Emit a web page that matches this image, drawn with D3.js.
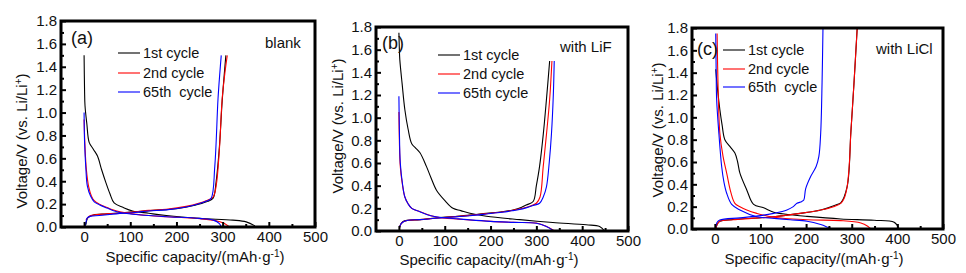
<!DOCTYPE html>
<html>
<head>
<meta charset="utf-8">
<script src="https://cdn.jsdelivr.net/npm/d3@7"></script>
<style>
  body { margin: 0; background: #fff; }
  svg text { font-family: "Liberation Sans", Arial, sans-serif; font-size: 14px; fill: #111; }
  .tick text { font-size: 15px; }
</style>
</head>
<body>
<svg id="chart" width="966" height="273"></svg>
<script>
// tick values
const xTicks = [0, 100, 200, 300, 400, 500];
const yTicks = [0, 0.2, 0.4, 0.6, 0.8, 1.0, 1.2, 1.4, 1.6, 1.8];
const seriesColors = ["#000000", "#ff0000", "#0000ff"];

// panel (a) blank : [capacity, voltage]
const a1Dis = [[0,1.5],[1,1.2],[2,1.06],[6,0.9],[11,0.74],[20,0.68],[29,0.62],[38,0.5],[47,0.39],[56,0.29],[65,0.21],[85,0.17],[105,0.14],[140,0.12],[178,0.10],[250,0.075],[322,0.06],[351,0.045],[370,0.01]];
const a1Chg = [[4,0.02],[8,0.08],[20,0.105],[50,0.115],[100,0.13],[150,0.145],[200,0.16],[240,0.19],[265,0.22],[279,0.25],[286,0.4],[293,0.7],[299,1.1],[307,1.5]];
const a2Dis = [[0,0.94],[2,0.7],[5,0.5],[10,0.35],[16,0.27],[22,0.23],[33,0.2],[50,0.17],[62,0.15],[80,0.13],[105,0.115],[140,0.1],[178,0.09],[250,0.073],[286,0.055],[304,0.03],[315,0.0]];
const a2Chg = [[4,0.06],[10,0.09],[14,0.1],[33,0.11],[70,0.12],[105,0.13],[140,0.145],[178,0.155],[221,0.18],[250,0.21],[264,0.23],[279,0.26],[286,0.36],[293,0.68],[299,1.12],[305,1.35],[310,1.5]];
const a3Dis = [[0,1.0],[1,0.75],[4,0.5],[7,0.36],[14,0.27],[22,0.22],[33,0.195],[50,0.165],[62,0.145],[80,0.125],[105,0.112],[140,0.1],[178,0.09],[250,0.075],[280,0.06],[293,0.03],[297,0.0]];
const a3Chg = [[2,0.0],[4,0.04],[7,0.08],[15,0.095],[33,0.10],[70,0.115],[105,0.125],[140,0.14],[178,0.15],[221,0.175],[250,0.205],[264,0.225],[275,0.25],[283,0.53],[290,1.12],[294,1.35],[297,1.5]];

// panel (b) with LiF
const b1Dis = [[0,1.75],[1,1.6],[2,1.51],[7,1.3],[13,1.07],[20,0.9],[28,0.77],[37,0.73],[46,0.69],[60,0.57],[70,0.47],[82,0.36],[100,0.27],[118,0.2],[135,0.18],[155,0.156],[191,0.13],[264,0.1],[336,0.075],[409,0.055],[438,0.04],[449,0.0]];
const b1Chg = [[1,0.02],[4,0.06],[9,0.085],[20,0.095],[46,0.1],[80,0.115],[118,0.127],[155,0.14],[191,0.156],[225,0.17],[249,0.186],[268,0.21],[278,0.23],[293,0.26],[300,0.4],[307,0.57],[315,0.85],[322,1.16],[329,1.5]];
const b2Dis = [[0,1.05],[1,0.8],[3,0.57],[8,0.4],[13,0.3],[20,0.24],[28,0.2],[46,0.17],[70,0.135],[97,0.115],[130,0.105],[155,0.097],[200,0.085],[250,0.076],[300,0.07],[322,0.04],[340,0.0]];
const b2Chg = [[1,0.03],[4,0.06],[9,0.08],[20,0.095],[46,0.1],[80,0.113],[118,0.125],[155,0.138],[191,0.153],[225,0.168],[249,0.183],[270,0.2],[290,0.225],[300,0.245],[308,0.3],[315,0.57],[322,0.85],[329,1.16],[334,1.5]];
const b3Dis = [[0,1.19],[1,0.9],[3,0.6],[8,0.41],[13,0.3],[20,0.24],[28,0.2],[46,0.17],[70,0.135],[97,0.117],[130,0.107],[155,0.098],[200,0.085],[250,0.076],[300,0.068],[322,0.04],[338,0.0]];
const b3Chg = [[1,0.03],[4,0.06],[9,0.08],[20,0.095],[46,0.1],[80,0.112],[118,0.123],[155,0.135],[191,0.15],[225,0.165],[249,0.18],[270,0.195],[293,0.225],[307,0.245],[315,0.3],[322,0.39],[328,0.6],[333,0.86],[337,1.2],[339,1.5]];

// panel (c) with LiCl
const c1Dis = [[2,1.43],[6,1.25],[11,1.07],[16,0.93],[22,0.8],[33,0.74],[44,0.68],[50,0.6],[55,0.5],[70,0.35],[85,0.22],[107,0.19],[129,0.15],[160,0.13],[202,0.113],[276,0.09],[349,0.078],[393,0.06],[404,0.0]];
const c1Chg = [[2,0.0],[6,0.05],[11,0.07],[40,0.085],[129,0.11],[187,0.14],[232,0.17],[268,0.22],[276,0.235],[290,0.38],[298,0.86],[305,1.31],[312,1.8]];
const c2Dis = [[5,1.75],[7,1.3],[11,0.86],[18,0.65],[26,0.5],[35,0.33],[44,0.23],[55,0.2],[70,0.17],[92,0.14],[129,0.105],[202,0.083],[276,0.075],[320,0.054],[335,0.025],[342,0.0]];
const c2Chg = [[2,0.0],[5,0.04],[11,0.07],[40,0.083],[80,0.095],[129,0.11],[187,0.14],[232,0.17],[260,0.2],[276,0.23],[283,0.27],[290,0.38],[295,0.6],[298,0.86],[305,1.31],[312,1.8]];
const c3Dis = [[2,1.75],[3,1.4],[4,1.16],[9,0.85],[15,0.56],[20,0.42],[26,0.32],[37,0.22],[55,0.17],[92,0.11],[130,0.095],[165,0.083],[202,0.07],[232,0.04],[248,0.015],[257,0.0]];
const c3Chg = [[2,0.02],[5,0.06],[11,0.08],[55,0.1],[100,0.12],[129,0.14],[158,0.17],[172,0.2],[180,0.23],[190,0.245],[195,0.26],[199,0.36],[210,0.47],[222,0.56],[228,0.65],[232,0.86],[235,1.31],[237,1.8]];

// layout of the three panels
const panels = [
  { key: "a", left: 61, right: 315, top: 21, bottom: 227, label: "(a)", labelXY: [71, 38], note: "blank", noteXY: [265, 43],
    legend: ["1st cycle", "2nd cycle", "65th  cycle"], legX: 118, legY: [53, 73, 92],
    yTitle: [22, 141], xTitle: [195, 262],
    curves: [[a1Dis, a1Chg], [a2Dis, a2Chg], [a3Dis, a3Chg]] },
  { key: "b", left: 376, right: 628, top: 27, bottom: 231, label: "(b)", labelXY: [382, 43], note: "with LiF", noteXY: [560, 47],
    legend: ["1st cycle", "2nd cycle", "65th cycle"], legX: 438, legY: [55, 74, 93],
    yTitle: [338, 126], xTitle: [489, 265],
    curves: [[b1Dis, b1Chg], [b2Dis, b2Chg], [b3Dis, b3Chg]] },
  { key: "c", left: 692, right: 943, top: 28, bottom: 229, label: "(c)", labelXY: [697, 49], note: "with LiCl", noteXY: [876, 49],
    legend: ["1st cycle", "2nd cycle", "65th  cycle"], legX: 723, legY: [50, 69, 87],
    yTitle: [658, 130], xTitle: [814, 264],
    curves: [[c1Dis, c1Chg], [c2Dis, c2Chg], [c3Dis, c3Chg]] }
];

const svg = d3.select("#chart");

panels.forEach(p => {
  const x = d3.scaleLinear().domain([-50, 500]).range([p.left, p.right]);
  const y = d3.scaleLinear().domain([0, 1.8]).range([p.bottom, p.top]);
  const g = svg.append("g");

  // clip for the curves
  g.append("clipPath").attr("id", "clip-" + p.key)
    .append("rect")
    .attr("x", p.left).attr("y", p.top)
    .attr("width", p.right - p.left).attr("height", p.bottom - p.top);

  const line = d3.line()
    .x(d => x(d[0]))
    .y(d => y(d[1]))
    .curve(d3.curveCatmullRom.alpha(0.5));

  const plot = g.append("g").attr("clip-path", `url(#clip-${p.key})`);
  p.curves.forEach((pair, i) => {
    pair.forEach(arr => {
      plot.append("path")
        .datum(arr)
        .attr("fill", "none")
        .attr("stroke", seriesColors[i])
        .attr("stroke-width", 1.1)
        .attr("d", line);
    });
  });

  // minor ticks
  const xAxisMinor = d3.axisBottom(x).tickValues([50, 150, 250, 350, 450]).tickSizeInner(-3).tickSizeOuter(0).tickFormat("");
  g.append("g").attr("transform", `translate(0,${p.bottom})`).call(xAxisMinor)
    .call(s => s.select(".domain").remove())
    .selectAll("line").attr("stroke-width", 2);
  const yAxisMinor = d3.axisLeft(y).tickValues(d3.range(0.1, 1.8, 0.2)).tickSizeInner(-3).tickSizeOuter(0).tickFormat("");
  g.append("g").attr("transform", `translate(${p.left},0)`).call(yAxisMinor)
    .call(s => s.select(".domain").remove())
    .selectAll("line").attr("stroke-width", 2);

  // major ticks + labels
  const xAxis = d3.axisBottom(x).tickValues(xTicks).tickSizeInner(-5).tickSizeOuter(0).tickPadding(4);
  const gx = g.append("g").attr("transform", `translate(0,${p.bottom})`).call(xAxis);
  gx.select(".domain").remove();
  gx.selectAll("line").attr("stroke-width", 2);
  gx.selectAll("text").attr("font-size", null).attr("font-family", null);

  const yAxis = d3.axisLeft(y).tickValues(yTicks).tickSizeInner(-5).tickSizeOuter(0).tickPadding(4).tickFormat(d3.format(".1f"));
  const gy = g.append("g").attr("transform", `translate(${p.left},0)`).call(yAxis);
  gy.select(".domain").remove();
  gy.selectAll("line").attr("stroke-width", 2);
  gy.selectAll("text").attr("font-size", null).attr("font-family", null);

  // frame
  g.append("rect")
    .attr("x", p.left).attr("y", p.top)
    .attr("width", p.right - p.left).attr("height", p.bottom - p.top)
    .attr("fill", "none").attr("stroke", "#000").attr("stroke-width", 3);

  // panel label and note
  g.append("text").attr("x", p.labelXY[0]).attr("y", p.labelXY[1] + 6).style("font-size", "18px").text(p.label);
  g.append("text").attr("x", p.noteXY[0]).attr("y", p.noteXY[1] + 5).style("font-size", "15px").text(p.note);

  // legend
  p.legend.forEach((name, i) => {
    g.append("line")
      .attr("x1", p.legX).attr("x2", p.legX + 22)
      .attr("y1", p.legY[i]).attr("y2", p.legY[i])
      .attr("stroke", seriesColors[i]).attr("stroke-width", 1.1);
    g.append("text")
      .attr("x", p.legX + 25).attr("y", p.legY[i] + 5)
      .attr("xml:space", "preserve").style("white-space", "pre")
      .style("font-size", "14.5px")
      .text(name);
  });

  // axis titles
  const yt = g.append("text")
    .attr("transform", `translate(${p.yTitle[0] + 5},${p.yTitle[1]}) rotate(-90)`)
    .attr("text-anchor", "middle")
    .style("font-size", "15px");
  yt.append("tspan").text("Voltage/V (vs. Li/Li");
  yt.append("tspan").attr("dy", -5).style("font-size", "10px").text("+");
  yt.append("tspan").attr("dy", 5).text(")");

  const xt = g.append("text")
    .attr("x", p.xTitle[0]).attr("y", p.xTitle[1])
    .attr("text-anchor", "middle")
    .style("font-size", "15px");
  xt.append("tspan").text("Specific capacity/(mAh·g");
  xt.append("tspan").attr("dy", -5).style("font-size", "10px").text("-1");
  xt.append("tspan").attr("dy", 5).text(")");
});
</script>
</body>
</html>
